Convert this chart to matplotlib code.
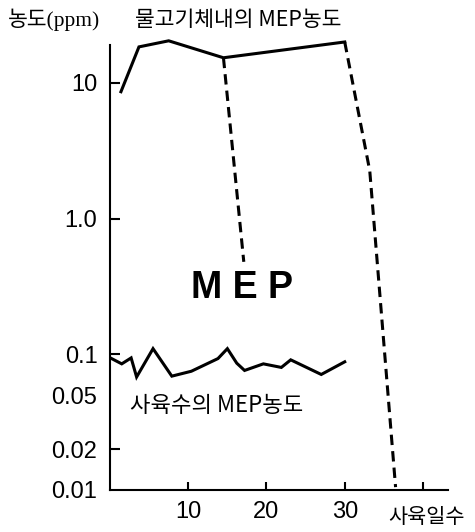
import matplotlib
matplotlib.use("Agg")
import matplotlib.pyplot as plt

# ---- data ----
fish_days = [1.4, 3.7, 7.5, 14.5, 30.0]
fish_conc = [8.6, 18.4, 20.4, 15.3, 20.0]

drop1_days = [14.5, 17.1]
drop1_conc = [15.3, 0.48]

drop2_days = [30.0, 33.2, 36.5]
drop2_conc = [20.0, 2.25, 0.0105]

water_days = [0.2, 1.5, 2.7, 3.4, 5.5, 7.9, 10.4, 13.8, 15.0, 16.2, 17.2, 19.6, 21.9, 23.1, 27.0, 30.0]
water_conc = [0.093, 0.085, 0.094, 0.068, 0.110, 0.069, 0.075, 0.093, 0.110, 0.086, 0.076, 0.085, 0.080, 0.091, 0.071, 0.088]

y_ticks = [10, 1.0, 0.1, 0.05, 0.02, 0.01]
y_tick_labels = ["10", "1.0", "0.1", "0.05", "0.02", "0.01"]
x_ticks = [10, 20, 30, 40]
x_tick_labels = ["10", "20", "30", ""]

KR = ["Noto Sans CJK KR", "DejaVu Sans"]
KR_SERIF = ["Liberation Serif", "Noto Sans CJK KR"]

W, H = 475, 532
fig = plt.figure(figsize=(W / 100, H / 100), dpi=100)
ax = fig.add_axes([110 / W, 1 - 490 / H, (448 - 110) / W, (490 - 45) / H])

lw = 2.2
ax.plot(fish_days, fish_conc, color="black", lw=lw, clip_on=False, solid_joinstyle="miter")
ax.plot(drop1_days, drop1_conc, color="black", lw=lw, ls=(0, (3.4, 2.0)), clip_on=False)
ax.plot(drop2_days, drop2_conc, color="black", lw=lw, ls=(0, (3.4, 2.0)), clip_on=False)
ax.plot(water_days, water_conc, color="black", lw=lw, clip_on=False, solid_joinstyle="miter")

ax.set_yscale("log")
ax.set_ylim(0.01, 19.0)
ax.set_xlim(0, 43.2)

for s in ["top", "right"]:
    ax.spines[s].set_visible(False)
for s in ["left", "bottom"]:
    ax.spines[s].set_linewidth(1.5)

ax.minorticks_off()
ax.set_yticks(y_ticks)
ax.set_yticklabels(y_tick_labels, fontfamily="Liberation Sans", fontsize=17)
ax.set_xticks(x_ticks)
ax.set_xticklabels(x_tick_labels, fontfamily="Liberation Sans", fontsize=17)
ax.tick_params(axis="y", direction="in", length=7, width=1.5, pad=9)
ax.tick_params(axis="x", direction="in", length=6, width=1.5, pad=8)
ax.yaxis.set_minor_locator(matplotlib.ticker.NullLocator())
for t, v in zip(ax.yaxis.get_major_ticks(), y_ticks):
    if v in (0.05, 0.01):
        t.tick1line.set_visible(False)


def fx(px):
    return px / W


def fy(py):
    return 1 - py / H


fig.text(fx(8), fy(20), "농도(ppm)", family=KR_SERIF, fontsize=15.5, va="center", ha="left")
fig.text(fx(135), fy(20), "물고기체내의 MEP농도", family=KR, fontsize=15.5, va="center", ha="left")
fig.text(fx(242), fy(288), "M E P", family="Liberation Sans", fontweight="bold", fontsize=27, va="center", ha="center")
fig.text(fx(130), fy(406), "사육수의 MEP농도", family=KR, fontsize=16, va="center", ha="left")
fig.text(fx(388), fy(517), "사육일수", family=KR, fontsize=15, va="center", ha="left")

fig.savefig("out.png", dpi=100, facecolor="white")
